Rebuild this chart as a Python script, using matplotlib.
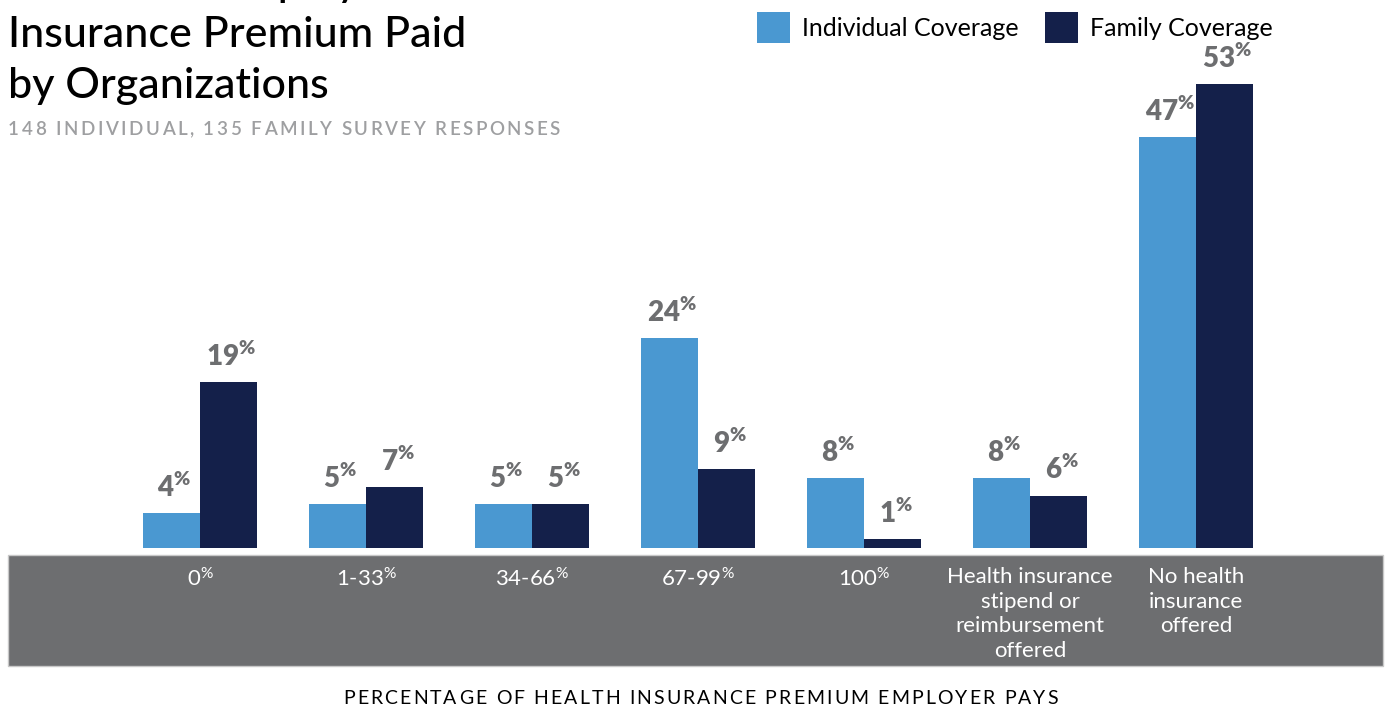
import numpy as np
import matplotlib
matplotlib.use('Agg')
import matplotlib.pyplot as plt
from matplotlib.patches import Rectangle
from matplotlib.font_manager import FontProperties

plt.rcParams['font.family'] = ['Lato', 'DejaVu Sans']
plt.rcParams['mathtext.default'] = 'regular'

# data
categories = ['0$^{\\%}$', '1-33$^{\\%}$', '34-66$^{\\%}$', '67-99$^{\\%}$', '100$^{\\%}$',
              'Health insurance\nstipend or\nreimbursement\noffered',
              'No health\ninsurance\noffered']
individual = [4, 5, 5, 24, 8, 8, 47]
family = [19, 7, 5, 9, 1, 6, 53]
series_names = ['Individual Coverage', 'Family Coverage']

c_ind = '#4a98d1'
c_fam = '#14204a'
c_gray = '#6d6e70'

W, H = 1385, 707
fig = plt.figure(figsize=(W / 100, H / 100), dpi=100)

def fx(px):
    return px / W

def fy(py):
    return (H - py) / H

# axes: baseline at y=548px, group 0 centre at x=200px, 166px between groups
ax = fig.add_axes([0, fy(548), 1, fy(0) - fy(548)])
ax.set_facecolor('none')
ax.set_xlim((0 - 200) / 166, (W - 200) / 166)
ax.set_ylim(0, 548 / 8.75)
for s in ax.spines.values():
    s.set_visible(False)
ax.set_yticks([])

ind = np.arange(len(categories))
width = 0.346
b1 = ax.bar(ind - width / 2, individual, width, color=c_ind, zorder=3)
b2 = ax.bar(ind + width / 2, family, width, color=c_fam, zorder=3)

ax.set_xticks(ind)
ax.set_xticklabels(categories, color='white', fontsize=16, va='top', linespacing=1.28)
ax.tick_params(axis='x', length=0, pad=14)

# grey band behind tick labels
band = Rectangle((fx(8), fy(666)), fx(1383) - fx(8), fy(555) - fy(666),
                 transform=fig.transFigure, facecolor=c_gray, edgecolor='#c8c8c8',
                 linewidth=1, clip_on=False, zorder=0)
ax.add_patch(band)

def autolabel(rects):
    for rect in rects:
        h = rect.get_height()
        ax.annotate('{}$^{{\\%}}$'.format(int(h)),
                    xy=(rect.get_x() + rect.get_width() / 2, h),
                    xytext=(2, 8), textcoords='offset points',
                    ha='center', va='bottom', fontsize=20, fontweight='heavy',
                    color=c_gray, zorder=4)

autolabel(b1)
autolabel(b2)


def tracked_text(x0, x1, y, s, prop, color):
    # letter-spaced text stretched to run from x0 to x1 (pixels)
    r = fig.canvas.get_renderer()
    base = r.get_text_width_height_descent('HH', prop, ismath=False)[0]
    widths = [r.get_text_width_height_descent('H' + ch + 'H', prop, ismath=False)[0] - base
              for ch in s]
    track = (x1 - x0 - sum(widths)) / (len(s) - 1)
    x = x0
    for ch, w in zip(s, widths):
        if ch != ' ':
            fig.text(fx(x), fy(y), ch, fontproperties=prop, color=color, va='baseline')
        x += w + track


# title
fig.text(fx(8), fy(-4), 'Percent of Employee', fontsize=31, color='black', va='baseline',
         fontweight='medium')
fig.text(fx(8), fy(47), 'Insurance Premium Paid', fontsize=31, color='black', va='baseline',
         fontweight='medium')
fig.text(fx(8), fy(98), 'by Organizations', fontsize=31, color='black', va='baseline',
         fontweight='medium')
tracked_text(8, 560, 135, '148 INDIVIDUAL, 135 FAMILY SURVEY RESPONSES',
             FontProperties(family=['Lato'], size=13.5, weight='semibold'), '#9e9fa1')

# legend
for x0, c, name in [(757, c_ind, series_names[0]), (1045, c_fam, series_names[1])]:
    fig.add_artist(Rectangle((fx(x0), fy(43)), fx(33), fy(12) - fy(43),
                             transform=fig.transFigure, facecolor=c, edgecolor='none'))
    fig.text(fx(x0 + 45), fy(28), name, fontsize=18, color='black', va='center')

# x axis title
tracked_text(343, 1058, 704, 'PERCENTAGE OF HEALTH INSURANCE PREMIUM EMPLOYER PAYS',
             FontProperties(family=['Lato'], size=14), 'black')

fig.savefig('out.png', dpi=100)
